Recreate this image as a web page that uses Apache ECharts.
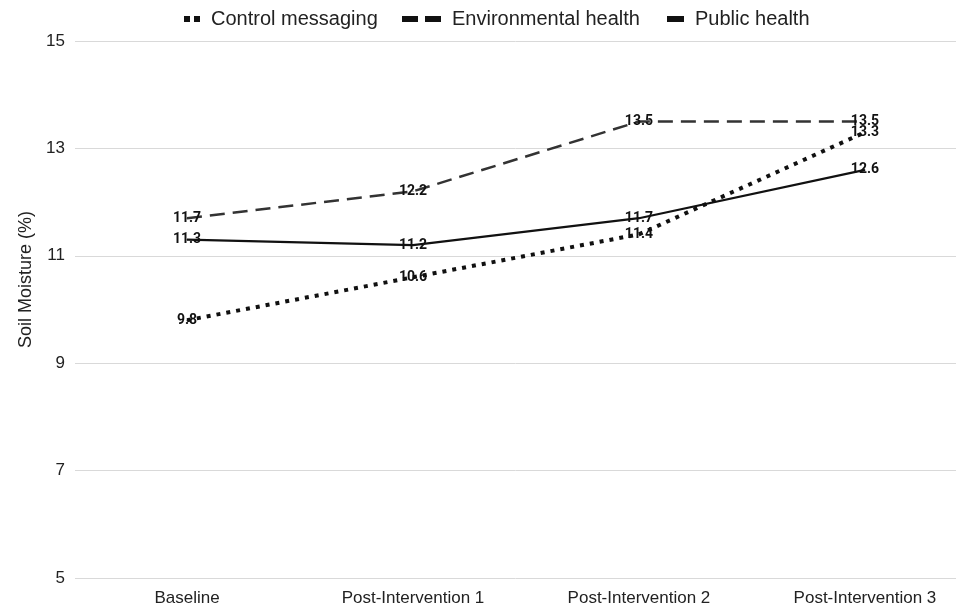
<!DOCTYPE html>
<html>
<head>
<meta charset="utf-8">
<script src="https://cdn.jsdelivr.net/npm/echarts@6/dist/echarts.min.js"></script>
<style>html,body{margin:0;padding:0;background:#fff;}#c{width:958px;height:610px;}</style>
</head>
<body>
<div id="c"></div>
<script>
var categories = ['Baseline', 'Post-Intervention 1', 'Post-Intervention 2', 'Post-Intervention 3'];
var seriesNames = ['Control messaging', 'Environmental health', 'Public health'];
var controlMessaging = [9.8, 10.6, 11.4, 13.3];
var environmentalHealth = [11.7, 12.2, 13.5, 13.5];
var publicHealth = [11.3, 11.2, 11.7, 12.6];
var yTicks = [5, 7, 9, 11, 13, 15];

function pairs(arr) { return arr.map(function (v, i) { return [i, v]; }); }

var labelStyle = {
  show: true, position: 'inside', color: '#111', fontSize: 14, fontWeight: 'bold',
  fontFamily: 'Roboto', formatter: function (p) { return p.value[1].toFixed(1); }
};

var legendText = { fontSize: 20, color: '#222', fontFamily: 'Liberation Sans', padding: [0, 0, 0, 6] };
function mkLegend(name, left, w, icon) {
  return {
    top: 4, left: left, itemWidth: w, itemHeight: 6, itemGap: 0,
    textStyle: legendText, selectedMode: false,
    data: [{ name: name, icon: icon, itemStyle: { color: '#111' } }]
  };
}

var chart = echarts.init(document.getElementById('c'));
chart.setOption({
  animation: false,
  textStyle: { fontFamily: 'Liberation Sans' },
  legend: [
    mkLegend(seriesNames[0], 179, 16, 'path://M0,0H6V6H0Z M10,0H16V6H10Z'),
    mkLegend(seriesNames[1], 397, 39, 'path://M0,0H16V6H0Z M23,0H39V6H23Z'),
    mkLegend(seriesNames[2], 662, 17, 'path://M0,0H17V6H0Z')
  ],
  grid: { left: 75, right: 2, top: 41, bottom: 32 },
  xAxis: {
    type: 'value', min: -0.4956, max: 3.403,
    axisLine: { show: false }, axisTick: { show: false }, splitLine: { show: false },
    axisLabel: {
      customValues: [0, 1, 2, 3], margin: 12, fontSize: 17, color: '#222',
      formatter: function (v) { return categories[Math.round(v)]; }
    }
  },
  yAxis: {
    type: 'value', min: yTicks[0], max: yTicks[yTicks.length - 1], interval: 2,
    name: 'Soil Moisture (%)', nameLocation: 'middle', nameGap: 39, nameRotate: 90,
    nameTextStyle: { fontSize: 18, color: '#222', padding: [0, 0, 0, 60] },
    axisLine: { show: false }, axisTick: { show: false },
    axisLabel: { margin: 10, fontSize: 17, color: '#222' },
    splitLine: { lineStyle: { color: '#d9d9d9', width: 1 } }
  },
  series: [
    {
      name: seriesNames[0], type: 'line', data: pairs(controlMessaging),
      symbol: 'circle', symbolSize: 1, z: 3,
      lineStyle: { color: '#111', width: 4, type: [4, 6], cap: 'butt' },
      itemStyle: { color: '#111' }, label: labelStyle
    },
    {
      name: seriesNames[1], type: 'line', data: pairs(environmentalHealth),
      symbol: 'circle', symbolSize: 1, z: 2,
      lineStyle: { color: '#333', width: 2.5, type: [15, 8] },
      itemStyle: { color: '#333' }, label: labelStyle
    },
    {
      name: seriesNames[2], type: 'line', data: pairs(publicHealth),
      symbol: 'circle', symbolSize: 1, z: 2,
      lineStyle: { color: '#111', width: 2.2, type: 'solid' },
      itemStyle: { color: '#111' }, label: labelStyle
    }
  ]
});
</script>
</body>
</html>
